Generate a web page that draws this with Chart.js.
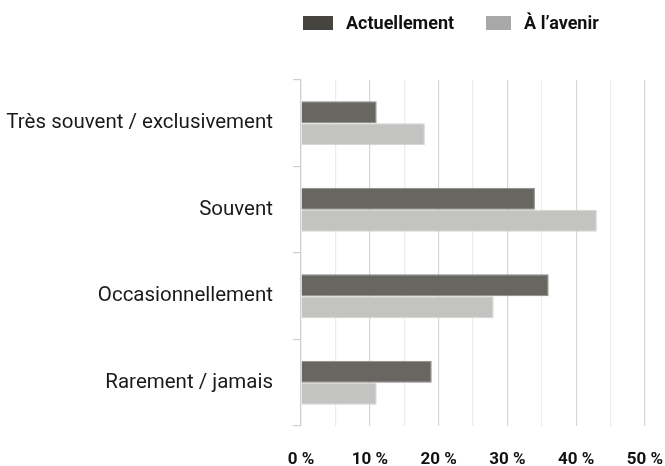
<!DOCTYPE html>
<html>
<head>
<meta charset="utf-8">
<script src="https://cdn.jsdelivr.net/npm/chart.js@4"></script>
<style>
  html, body { margin: 0; padding: 0; background: #fff; }
  #wrap { position: relative; width: 665px; height: 466px; }
  #legend { position: absolute; top: 12px; left: 303px; display: flex; align-items: center;
            font-family: Roboto, "Liberation Sans", sans-serif; font-weight: bold; font-size: 18px; color: #111; }
  .item { display: flex; align-items: center; }
  .box { display: inline-block; height: 14px; margin-right: 13px; }
</style>
</head>
<body>
<div id="wrap">
  <canvas id="c" width="665" height="466"></canvas>
  <div id="legend"></div>
</div>
<script>
const categories = ["Très souvent / exclusivement", "Souvent", "Occasionnellement", "Rarement / jamais"];
const seriesNames = ["Actuellement", "À l’avenir"];
const actuellement = [11, 34, 36, 19];
const avenir = [18, 43, 28, 11];
const tickValues = [0, 10, 20, 30, 40, 50];

const barColors = ["#676661", "#c3c3c2"];
const barBorders = ["#8a8985", "#d3d3d2"];
const legendColors = ["#45443f", "#a8a8a8"];
const legendWidths = [30, 25];

const legendEl = document.getElementById('legend');
seriesNames.forEach((n, i) => {
  const it = document.createElement('span');
  it.className = 'item';
  it.style.marginRight = i === 0 ? '32px' : '0';
  const b = document.createElement('span');
  b.className = 'box';
  b.style.width = legendWidths[i] + 'px';
  b.style.background = legendColors[i];
  it.appendChild(b);
  it.appendChild(document.createTextNode(n));
  legendEl.appendChild(it);
});

new Chart(document.getElementById('c'), {
  type: 'bar',
  data: {
    labels: categories,
    datasets: [
      { label: seriesNames[0], data: actuellement, backgroundColor: barColors[0], borderColor: barBorders[0], borderWidth: 1 },
      { label: seriesNames[1], data: avenir, backgroundColor: barColors[1], borderColor: barBorders[1], borderWidth: 1 }
    ]
  },
  options: {
    indexAxis: 'y',
    responsive: false,
    animation: false,
    layout: { padding: { top: 80, right: 0, left: 0, bottom: 0 } },
    datasets: { bar: { categoryPercentage: 0.51, barPercentage: 1.0 } },
    plugins: { legend: { display: false }, tooltip: { enabled: false } },
    scales: {
      x: {
        min: 0, max: 50,
        ticks: {
          stepSize: 5, autoSkip: false, maxRotation: 0,
          padding: 24,
          color: '#111',
          font: { family: 'Roboto, "Liberation Sans", sans-serif', weight: 'bold', size: 17 },
          callback: (v) => tickValues.includes(v) ? v + ' %' : ''
        },
        grid: {
          drawTicks: false,
          lineWidth: 1.2,
          color: (ctx) => (ctx.tick && ctx.tick.value % 10 === 0) ? '#d6d6d6' : '#ececec'
        },
        border: { display: false },
        afterFit: (s) => { s.height = 40; s.paddingRight = 20; s.paddingLeft = 0; }
      },
      y: {
        ticks: {
          padding: 20,
          color: '#1a1a1a',
          font: { family: 'Roboto, "Liberation Sans", sans-serif', size: 20.5 }
        },
        grid: { drawOnChartArea: false, drawTicks: true, tickLength: 8, color: '#cfcfcf', lineWidth: 1.2 },
        border: { display: true, color: '#cfcfcf', width: 1.2 },
        afterFit: (s) => { s.width = 301; }
      }
    }
  }
});
</script>
</body>
</html>
